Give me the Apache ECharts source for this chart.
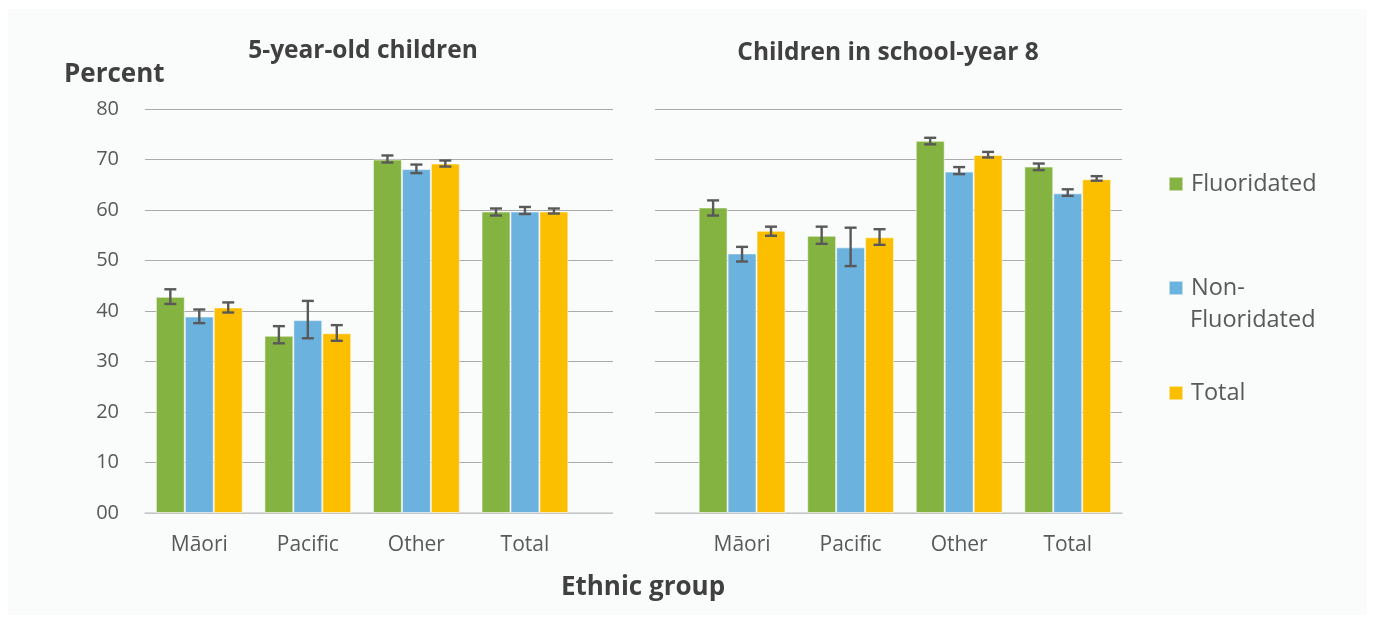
<!DOCTYPE html>
<html>
<head>
<meta charset="utf-8">
<script src="https://cdn.jsdelivr.net/npm/echarts@6/dist/echarts.min.js"></script>
<style>
html,body{margin:0;padding:0;background:#ffffff;}
#chart{width:1375px;height:624px;}
</style>
</head>
<body>
<div id="chart"></div>
<script>
const categories = ['Māori', 'Pacific', 'Other', 'Total', '', 'Māori', 'Pacific', 'Other', 'Total'];
const seriesNames = ['Fluoridated', 'Non-Fluoridated', 'Total'];
const fluoridated = [42.8, 35.1, 70.0, 59.7, '-', 60.5, 54.9, 73.7, 68.6];
const nonFluoridated = [38.9, 38.2, 68.1, 59.7, '-', 51.4, 52.6, 67.6, 63.3];
const totalVals = [40.7, 35.6, 69.2, 59.7, '-', 55.9, 54.6, 70.9, 66.1];
const fluorLow = [41.4, 33.6, 69.4, 58.9, '-', 58.9, 53.3, 73.0, 67.9];
const fluorHigh = [44.3, 37.0, 70.8, 60.3, '-', 61.9, 56.7, 74.3, 69.2];
const nonLow = [37.6, 34.6, 67.3, 59.2, '-', 49.8, 48.9, 67.1, 62.8];
const nonHigh = [40.3, 42.0, 69.0, 60.6, '-', 52.7, 56.5, 68.5, 64.1];
const totLow = [39.7, 34.1, 68.6, 59.3, '-', 54.9, 53.1, 70.4, 65.8];
const totHigh = [41.7, 37.2, 69.8, 60.3, '-', 56.7, 56.2, 71.5, 66.7];
const yTicks = [0, 10, 20, 30, 40, 50, 60, 70, 80];
const panelTitles = ['5-year-old children', 'Children in school-year 8'];

const colors = ['#84B341', '#6CB2DE', '#FBBF00'];
const FONT = '"Open Sans", "Noto Sans", sans-serif';
const BG = '#FAFBFB';

function errData(low, high) {
  const out = [];
  for (let i = 0; i < low.length; i++) {
    if (low[i] === '-') continue;
    out.push([i, low[i], high[i]]);
  }
  return out;
}
function errSeries(idx, low, high) {
  return {
    type: 'custom',
    name: seriesNames[idx] + ' CI',
    data: errData(low, high),
    encode: {x: 0, y: [1, 2]},
    z: 5,
    silent: true,
    renderItem: function (params, api) {
      const band = api.size([1, 0])[0];
      const bw = band * 0.8 / 3;
      const off = (idx - 1) * bw;
      const lo = api.coord([api.value(0), api.value(1)]);
      const hi = api.coord([api.value(0), api.value(2)]);
      const x = lo[0] + off;
      const cap = 6;
      const st = {stroke: '#595959', lineWidth: 2.4};
      return {
        type: 'group',
        children: [
          {type: 'line', shape: {x1: x, y1: lo[1], x2: x, y2: hi[1]}, style: st},
          {type: 'line', shape: {x1: x - cap, y1: lo[1], x2: x + cap, y2: lo[1]}, style: st},
          {type: 'line', shape: {x1: x - cap, y1: hi[1], x2: x + cap, y2: hi[1]}, style: st}
        ]
      };
    }
  };
}
function barSeries(idx, data) {
  return {
    type: 'bar',
    name: seriesNames[idx],
    data: data,
    barGap: '0%',
    barCategoryGap: '20%',
    itemStyle: {color: colors[idx], borderColor: 'rgba(255,255,255,0.55)', borderWidth: 1},
    z: 2
  };
}
function legendAt(idx, top, label) {
  return {
    data: [seriesNames[idx]],
    left: 1168,
    top: top,
    padding: 0,
    itemWidth: 14,
    itemHeight: 14,
    icon: 'rect',
    selectedMode: false,
    formatter: function () { return label; },
    textStyle: {
      fontFamily: FONT, fontSize: 23.5, color: '#595959',
      lineHeight: 32,
      padding: [0, 0, 0, 3]
    }
  };
}

const chart = echarts.init(document.getElementById('chart'));
chart.setOption({
  backgroundColor: '#ffffff',
  animation: false,
  textStyle: {fontFamily: FONT},
  grid: {left: 145, right: 253, top: 109, bottom: 111},
  legend: [
    legendAt(0, 168, 'Fluoridated'),
    legendAt(1, 272, 'Non-'),
    legendAt(2, 377, 'Total')
  ],
  xAxis: {
    type: 'category',
    data: categories,
    axisTick: {show: false},
    axisLine: {lineStyle: {color: '#D0D0D0', width: 1.5}},
    axisLabel: {fontFamily: FONT, fontSize: 21, color: '#595959', margin: 22}
  },
  yAxis: {
    type: 'value',
    min: yTicks[0],
    max: yTicks[yTicks.length - 1],
    interval: 10,
    axisLine: {show: false},
    axisTick: {show: false},
    splitLine: {lineStyle: {color: '#ABABAB', width: 1.2}},
    axisLabel: {
      fontFamily: FONT, fontSize: 20, color: '#595959', margin: 26,
      formatter: function (v) { return (v < 10 ? '0' : '') + v; }
    }
  },
  graphic: {
    elements: [
      {type: 'rect', z: -10, shape: {x: 8, y: 9, width: 1359, height: 606}, style: {fill: BG}, silent: true},
      {type: 'rect', z: 100, shape: {x: 613, y: 95, width: 42, height: 425}, style: {fill: BG}, silent: true},
      {type: 'text', z: 100, x: 363, y: 51, style: {text: panelTitles[0], font: 'bold 24.5px ' + FONT, fill: '#404040', textAlign: 'center', textVerticalAlign: 'middle'}},
      {type: 'text', z: 100, x: 888, y: 53, style: {text: panelTitles[1], font: 'bold 24.5px ' + FONT, fill: '#404040', textAlign: 'center', textVerticalAlign: 'middle'}},
      {type: 'text', z: 100, x: 64, y: 75, style: {text: 'Percent', font: 'bold 26px ' + FONT, fill: '#404040', textAlign: 'left', textVerticalAlign: 'middle'}},
      {type: 'text', z: 100, x: 643, y: 588, style: {text: 'Ethnic group', font: 'bold 26px ' + FONT, fill: '#404040', textAlign: 'center', textVerticalAlign: 'middle'}},
      {type: 'text', z: 100, x: 1190, y: 320, style: {text: 'Fluoridated', font: '23.5px ' + FONT, fill: '#595959', textAlign: 'left', textVerticalAlign: 'middle'}}
    ]
  },
  series: [
    barSeries(0, fluoridated),
    barSeries(1, nonFluoridated),
    barSeries(2, totalVals),
    errSeries(0, fluorLow, fluorHigh),
    errSeries(1, nonLow, nonHigh),
    errSeries(2, totLow, totHigh)
  ]
});
</script>
</body>
</html>
